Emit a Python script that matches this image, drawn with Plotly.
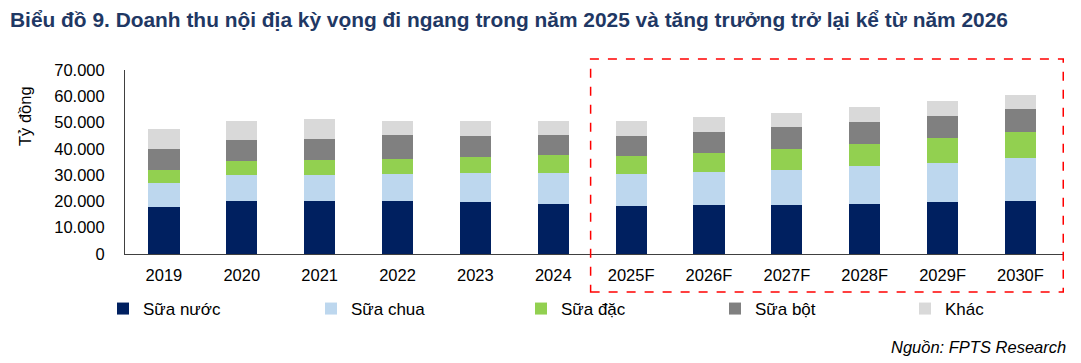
import plotly.graph_objects as go

categories = ["2019", "2020", "2021", "2022", "2023", "2024",
              "2025F", "2026F", "2027F", "2028F", "2029F", "2030F"]
sua_nuoc = [18000, 20300, 20300, 20300, 19900, 19000, 18300, 18500, 18600, 19100, 19600, 20200]
sua_chua = [8900, 9600, 9700, 10200, 10900, 11800, 12000, 12700, 13500, 14400, 15200, 16200]
sua_dac = [5000, 5500, 5600, 5700, 6100, 6800, 7000, 7300, 7900, 8400, 9300, 10000]
sua_bot = [7900, 8100, 8300, 9200, 8100, 7800, 7700, 7900, 8300, 8300, 8500, 8600]
khac = [7700, 7200, 7300, 5200, 5600, 5200, 5600, 5600, 5300, 5600, 5500, 5600]

y_tickvals = [0, 10000, 20000, 30000, 40000, 50000, 60000, 70000]
y_ticktext = ["0", "10.000", "20.000", "30.000", "40.000", "50.000", "60.000", "70.000"]

series = [
    ("Sữa nước", sua_nuoc, "#002060"),
    ("Sữa chua", sua_chua, "#BDD7EE"),
    ("Sữa đặc", sua_dac, "#92D050"),
    ("Sữa bột", sua_bot, "#808080"),
    ("Khác", khac, "#D9D9D9"),
]
# legend entry positions (px, figure coords)
legend_x_px = [95, 303, 513, 707, 897]

FONT = "Liberation Sans, Arial, sans-serif"
# page body has an 8px margin, so the figure is laid out 8px smaller
W, H = 1073, 355
L, T, R, B = 117, 62, 17, 109
PW = W - L - R

fig = go.Figure()
legend_layouts = {}
for i, (name, vals, col) in enumerate(series):
    lname = "legend" if i == 0 else f"legend{i + 1}"
    fig.add_trace(go.Bar(x=categories, y=vals, name=name, legend=lname,
                         marker=dict(color=col, line=dict(width=0))))
    legend_layouts[lname] = dict(orientation="h", xref="container", yref="container",
                                 x=legend_x_px[i] / W, y=1 - 301 / H,
                                 xanchor="left", yanchor="middle",
                                 font=dict(size=17, family=FONT), itemwidth=30,
                                 bgcolor="rgba(0,0,0,0)")

fig.update_layout(
    barmode="stack",
    bargap=0.6,
    width=W, height=H,
    margin=dict(l=L, r=R, t=T, b=B, autoexpand=False),
    plot_bgcolor="white", paper_bgcolor="white",
    font=dict(family=FONT, size=16, color="black"),
    showlegend=True,
    xaxis=dict(showline=True, linecolor="#404040", linewidth=1, showgrid=False,
               ticks="", tickfont=dict(size=16.5), ticklabelstandoff=6),
    yaxis=dict(range=[0, 70000], showline=True, linecolor="#404040",
               linewidth=1, showgrid=False, zeroline=False, ticks="",
               tickvals=y_tickvals, ticktext=y_ticktext, ticklabelstandoff=16,
               tickfont=dict(size=16.5)),
    **legend_layouts,
)

fig.add_annotation(text="<b>Biểu đồ 9. Doanh thu nội địa kỳ vọng đi ngang trong năm 2025 và tăng trưởng trở lại kể từ năm 2026</b>",
                   xref="paper", yref="paper", x=-L / PW, y=1.0, xanchor="left", yanchor="middle",
                   yshift=51, showarrow=False,
                   font=dict(family=FONT, size=20.9, color="#1F3864"))

fig.add_annotation(text="Tỷ đồng", textangle=-90, xref="paper", yref="paper",
                   x=-100 / PW, y=0.75, xanchor="center", yanchor="middle", showarrow=False,
                   font=dict(size=16.5, family=FONT, color="black"))

fig.add_annotation(text="<i>Nguồn: FPTS Research</i>", xref="paper", yref="paper",
                   x=1.004, y=0, xanchor="right", yanchor="middle", yshift=-93,
                   showarrow=False, font=dict(size=16.5, family=FONT, color="black"))

fig.add_shape(type="rect", xref="x", yref="paper", x0=5.48, x1=11.55, y0=-0.2065, y1=1.06,
              line=dict(color="#FF0000", width=1.5, dash="dash"), fillcolor="rgba(0,0,0,0)")

fig.write_html("out.html")
